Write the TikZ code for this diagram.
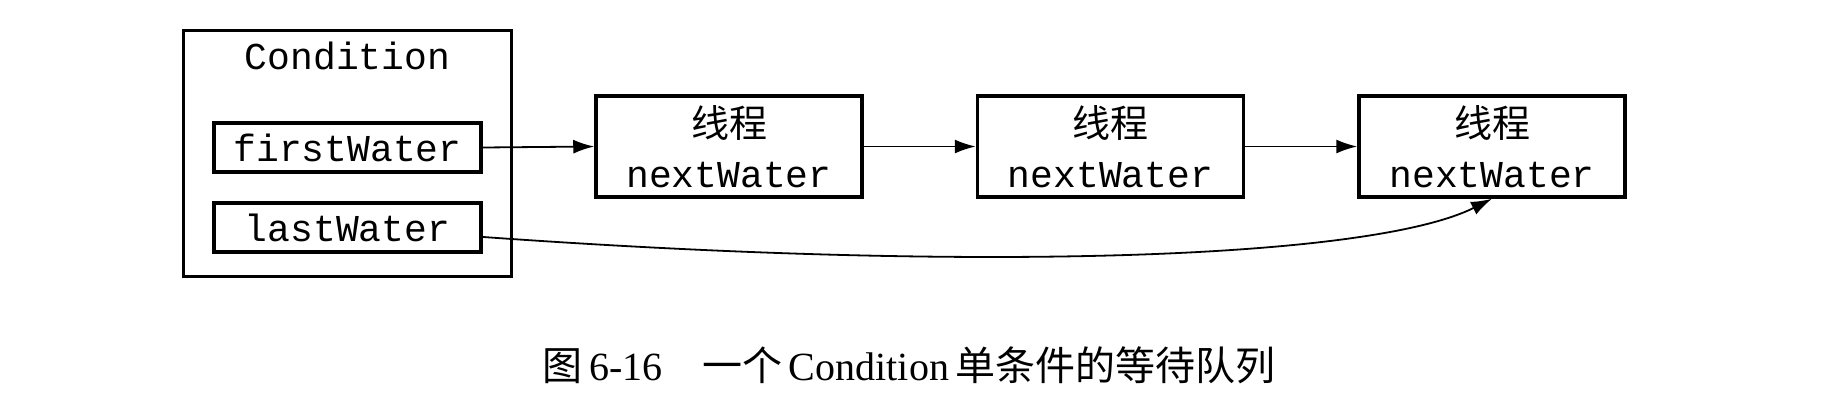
\documentclass[tikz,border=0pt]{standalone}
\usepackage{fontspec}
\setmainfont{Liberation Serif}
\setmonofont{Liberation Mono}
\newfontfamily\cjk{Noto Sans CJK SC}
\usetikzlibrary{positioning,arrows.meta}
\tikzset{
  fig/.style={font=\ttfamily\fontsize{38}{50}\selectfont},
  box/.style={draw,line width=3.5pt,minimum height=101pt,minimum width=266pt,
              align=center,inner sep=2pt},
  field/.style={draw,line width=3.5pt,minimum height=49pt,minimum width=267pt,
                inner sep=2pt},
  ln/.style={-{Latex[length=21pt,width=14pt]},line width=1.8pt},
  captext/.style={font=\rmfamily\fontsize{40}{48}\selectfont,inner sep=0pt},
}

\begin{document}
\begin{tikzpicture}[fig,x=1pt,y=-1pt]
\useasboundingbox (0,0) rectangle (1828,410);

% the Condition object
\node[draw,line width=3.5pt,minimum width=328pt,minimum height=246pt] (cond) at (347.5,153.5) {};
\node[inner sep=0pt] (condt) at (347.5,56) {Condition};
\node[field] (fw) at (347.5,147.5) {firstWater};
\node[field] (lw) at (347.5,227.5) {lastWater};

% the waiting threads
\node[box] (t1) at (729,146.5) {{\cjk 线程}\\nextWater};
\node[box,right=112pt of t1] (t2) {{\cjk 线程}\\nextWater};
\node[box,right=112pt of t2] (t3) {{\cjk 线程}\\nextWater};

\draw[ln] (fw.east) -- (t1.west);
\draw[ln] (t1) -- (t2);
\draw[ln] (t2) -- (t3);
\draw[ln] (lw.-4) .. controls +(500,36) and +(-120,60) .. (t3.south);

\node[captext] (caption) at (909,365) {{\cjk 图}\,6-16\hspace{1em}{\cjk 一个}\,Condition\,{\cjk 单条件的等待队列}};

\end{tikzpicture}
\end{document}
